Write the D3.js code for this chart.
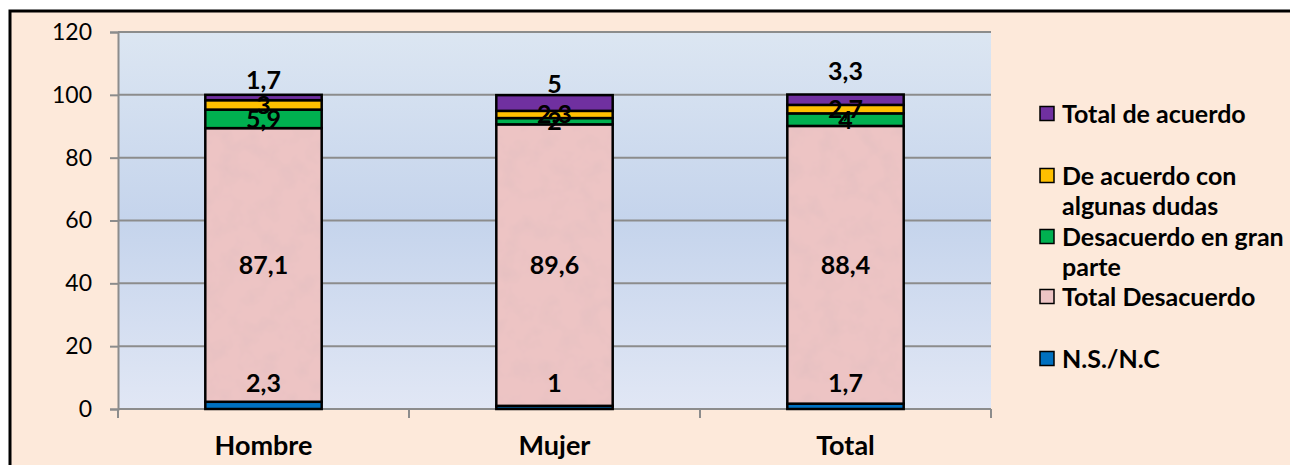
<!DOCTYPE html>
<html><head><meta charset="utf-8">
<script src="https://cdn.jsdelivr.net/npm/d3@7"></script>
<style>html,body{margin:0;padding:0;background:#fff;}svg{display:block;}</style>
</head><body>
<svg id="chart" width="1290" height="465"></svg>
<script>
const categories = ["Hombre", "Mujer", "Total"];
const seriesNames = ["N.S./N.C", "Total Desacuerdo", "Desacuerdo en gran parte", "De acuerdo con algunas dudas", "Total de acuerdo"];
const nsnc = [2.3, 1, 1.7];
const totalDesacuerdo = [87.1, 89.6, 88.4];
const desacuerdoGranParte = [5.9, 2, 4];
const deAcuerdoDudas = [3, 2.3, 2.7];
const totalAcuerdo = [1.7, 5, 3.3];
const labelText = {
  "N.S./N.C": ["2,3", "1", "1,7"],
  "Total Desacuerdo": ["87,1", "89,6", "88,4"],
  "Desacuerdo en gran parte": ["5,9", "2", "4"],
  "De acuerdo con algunas dudas": ["3", "2,3", "2,7"],
  "Total de acuerdo": ["1,7", "5", "3,3"]
};
const yTicks = [0, 20, 40, 60, 80, 100, 120];
const legendLines = {
  "Total de acuerdo": ["Total de acuerdo"],
  "De acuerdo con algunas dudas": ["De acuerdo con", "algunas dudas"],
  "Desacuerdo en gran parte": ["Desacuerdo en gran", "parte"],
  "Total Desacuerdo": ["Total Desacuerdo"],
  "N.S./N.C": ["N.S./N.C"]
};

const seriesValues = [nsnc, totalDesacuerdo, desacuerdoGranParte, deAcuerdoDudas, totalAcuerdo];
const colors = {
  "N.S./N.C": "#0070C0",
  "Total Desacuerdo": "#EDC4C4",
  "Desacuerdo en gran parte": "#00B050",
  "De acuerdo con algunas dudas": "#FFC000",
  "Total de acuerdo": "#7030A0"
};
// manual label nudges (pixels) for the top series, as in the original
const topNudge = [15, 11, 24];

const svg = d3.select("#chart");
const defs = svg.append("defs");
const grad = defs.append("linearGradient").attr("id", "plotbg").attr("x1", 0).attr("y1", 0).attr("x2", 0).attr("y2", 1);
grad.append("stop").attr("offset", "0%").attr("stop-color", "#DCE6F2");
grad.append("stop").attr("offset", "50%").attr("stop-color", "#C5D4EC");
grad.append("stop").attr("offset", "100%").attr("stop-color", "#E1E7F5");

const filt = defs.append("filter").attr("id", "tex").attr("x", 0).attr("y", 0).attr("width", 1).attr("height", 1);
filt.append("feTurbulence").attr("type", "fractalNoise").attr("baseFrequency", 0.05).attr("numOctaves", 3).attr("seed", 7).attr("result", "n");
filt.append("feColorMatrix").attr("in", "n").attr("type", "matrix")
  .attr("values", "0 0 0 0 0.76  0 0 0 0 0.52  0 0 0 0 0.53  1.2 0 0 0 -0.5");

// Outer background & frame
svg.append("rect").attr("x", 10).attr("y", 11).attr("width", 1300).attr("height", 470)
  .attr("fill", "#FDE9DA").attr("stroke", "#000").attr("stroke-width", 3);

const margin = {left: 118, right: 991, top: 32, bottom: 409};
const x = d3.scaleBand().domain(categories).range([margin.left, margin.right]).paddingInner(0.6).paddingOuter(0.3);
const xOuter = d3.scaleBand().domain(categories).range([margin.left, margin.right]).padding(0);
const y = d3.scaleLinear().domain([0, 120]).range([margin.bottom, margin.top]);

svg.append("rect").attr("x", margin.left).attr("y", margin.top)
  .attr("width", margin.right - margin.left).attr("height", margin.bottom - margin.top)
  .attr("fill", "url(#plotbg)");

// gridlines
svg.append("g").selectAll("line").data(yTicks.filter(d => d > 0)).join("line")
  .attr("x1", margin.left).attr("x2", margin.right)
  .attr("y1", d => y(d)).attr("y2", d => y(d))
  .attr("stroke", "#8C8C8C").attr("stroke-width", 2);

// y axis
const yAxis = d3.axisLeft(y).tickValues(yTicks).tickSize(8).tickPadding(18).tickFormat(d3.format("d"));
const gy = svg.append("g").attr("transform", `translate(${margin.left},0)`).call(yAxis);
gy.select(".domain").attr("stroke", "#8C8C8C").attr("stroke-width", 2);
gy.selectAll(".tick line").attr("stroke", "#8C8C8C").attr("stroke-width", 2);
gy.selectAll(".tick text").attr("font-family", "Lato, 'Open Sans', sans-serif").attr("font-size", 23).attr("fill", "#000");

// x axis
const gx = svg.append("g").attr("transform", `translate(0,${margin.bottom})`);
gx.append("line").attr("x1", margin.left).attr("x2", margin.right).attr("y1", 0).attr("y2", 0)
  .attr("stroke", "#8C8C8C").attr("stroke-width", 2);
const bounds = categories.map(c => xOuter(c)).concat([margin.right]);
gx.selectAll("line.tk").data(bounds).join("line").attr("class", "tk")
  .attr("x1", d => d).attr("x2", d => d).attr("y1", 0).attr("y2", 9)
  .attr("stroke", "#8C8C8C").attr("stroke-width", 2);
gx.selectAll("text").data(categories).join("text")
  .attr("x", d => xOuter(d) + xOuter.bandwidth() / 2).attr("y", 46)
  .attr("text-anchor", "middle").attr("font-family", "Lato, sans-serif").attr("font-weight", "bold")
  .attr("font-size", 27).attr("fill", "#000").text(d => d);

// stacks
const rows = categories.map((c, i) => {
  const r = {cat: c};
  seriesNames.forEach((s, k) => r[s] = seriesValues[k][i]);
  return r;
});
const stacked = d3.stack().keys(seriesNames)(rows);

const gBars = svg.append("g");
stacked.forEach(layer => {
  const key = layer.key;
  const g = gBars.append("g");
  g.selectAll("rect.fill").data(layer).join("rect").attr("class", "fill")
    .attr("x", d => x(d.data.cat)).attr("width", x.bandwidth())
    .attr("y", d => y(d[1])).attr("height", d => y(d[0]) - y(d[1]))
    .attr("fill", colors[key]);
  if (key === "Total Desacuerdo") {
    g.selectAll("rect.tex").data(layer).join("rect").attr("class", "tex")
      .attr("x", d => x(d.data.cat)).attr("width", x.bandwidth())
      .attr("y", d => y(d[1])).attr("height", d => y(d[0]) - y(d[1]))
      .attr("fill", "#fff").attr("filter", "url(#tex)");
  }
  g.selectAll("rect.stroke").data(layer).join("rect").attr("class", "stroke")
    .attr("x", d => x(d.data.cat)).attr("width", x.bandwidth())
    .attr("y", d => y(d[1])).attr("height", d => y(d[0]) - y(d[1]))
    .attr("fill", "none").attr("stroke", "#000").attr("stroke-width", 2.5);
});

// labels
const gLab = svg.append("g");
stacked.forEach((layer, k) => {
  const key = layer.key;
  layer.forEach((d, i) => {
    let cy;
    if (k === 0) cy = y(0) - 26;
    else if (k === seriesNames.length - 1) cy = y(d[1]) - topNudge[i];
    else cy = y((d[0] + d[1]) / 2);
    gLab.append("text")
      .attr("x", x(d.data.cat) + x.bandwidth() / 2).attr("y", cy).attr("dy", "0.36em")
      .attr("text-anchor", "middle").attr("font-family", "Lato, sans-serif").attr("font-weight", "bold")
      .attr("font-size", 25).attr("fill", "#000").text(labelText[key][i]);
  });
});

// legend
const legendOrder = seriesNames.slice().reverse();
const legendY = [114, 176, 237, 297, 359];
const gLeg = svg.append("g");
legendOrder.forEach((s, i) => {
  const cy = legendY[i];
  gLeg.append("rect").attr("x", 1040).attr("y", cy - 7.5).attr("width", 14).attr("height", 14)
    .attr("fill", colors[s]).attr("stroke", "#000").attr("stroke-width", 1.5);
  legendLines[s].forEach((ln, j) => {
    gLeg.append("text").attr("x", 1062).attr("y", cy + j * 30).attr("dy", "0.36em")
      .attr("font-family", "Lato, sans-serif").attr("font-weight", "bold").attr("font-size", 25)
      .attr("fill", "#000").text(ln);
  });
});
</script>
</body></html>
